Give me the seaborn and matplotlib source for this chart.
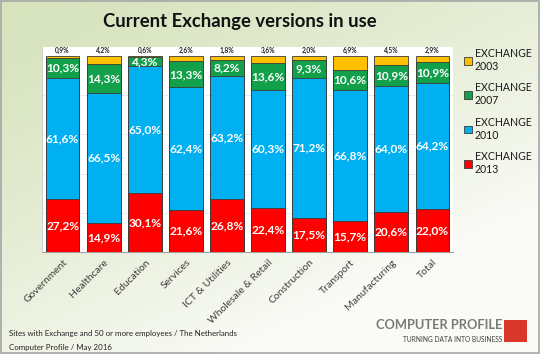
import numpy as np
import pandas as pd
import matplotlib
matplotlib.use('Agg')
import matplotlib.pyplot as plt
import seaborn as sns
from matplotlib.patches import Patch, Rectangle

# Data
categories = ['Government', 'Healthcare', 'Education', 'Services', 'ICT & Utilities',
              'Wholesale & Retail', 'Construction', 'Transport', 'Manufacturing', 'Total']
ex2013 = [27.2, 14.9, 30.1, 21.6, 26.8, 22.4, 17.5, 15.7, 20.6, 22.0]
ex2010 = [61.6, 66.5, 65.0, 62.4, 63.2, 60.3, 71.2, 66.8, 64.0, 64.2]
ex2007 = [10.3, 14.3, 4.3, 13.3, 8.2, 13.6, 9.3, 10.6, 10.9, 10.9]
ex2003 = [0.9, 4.2, 0.6, 2.6, 1.8, 3.6, 2.0, 6.9, 4.5, 2.9]
series_names = ['EXCHANGE\n2003', 'EXCHANGE\n2007', 'EXCHANGE\n2010', 'EXCHANGE\n2013']

colors = {'2003': '#ffc000', '2007': '#12a04b', '2010': '#00b0f0', '2013': '#ff0000'}

sns.set_theme(style='white')
plt.rcParams['font.family'] = ['Lato', 'DejaVu Sans']

df = pd.DataFrame({'cat': categories, '2013': ex2013, '2010': ex2010,
                   '2007': ex2007, '2003': ex2003})
df['c2013'] = df['2013']
df['c2010'] = df['c2013'] + df['2010']
df['c2007'] = df['c2010'] + df['2007']
df['c2003'] = df['c2007'] + df['2003']

fig = plt.figure(figsize=(5.4, 3.54), dpi=100)

# background gradient
bg = fig.add_axes([0, 0, 1, 1], zorder=-10)
gx, gy = np.meshgrid(np.linspace(0, 1, 200), np.linspace(0, 1, 200))
t = np.clip(0.55 * gx + 0.75 * gy, 0, 1) ** 1.3
c0 = np.array([214, 227, 188]) / 255
c1 = np.array([250, 251, 247]) / 255
img = c0[None, None, :] * (1 - t[..., None]) + c1[None, None, :] * t[..., None]
bg.imshow(img, extent=[0, 1, 0, 1], aspect='auto', origin='upper')
bg.set_axis_off()
bg.add_patch(Rectangle((0.002, 0.003), 0.996, 0.994, fill=False, edgecolor='#a6a6a6',
                       linewidth=1.2, transform=bg.transAxes))

ax = fig.add_axes([0.0778, 0.2881, 0.761, 0.579])
ax.set_facecolor('white')

for key in ['2003', '2007', '2010', '2013']:
    sns.barplot(data=df, x='cat', y='c' + key, color=colors[key], saturation=1,
                width=0.82, edgecolor='#3a3a3a', linewidth=0.6, ax=ax, zorder=3)

ax.set_ylim(0, 104.6)
ax.set_xlim(-0.5, len(categories) - 0.5)
ax.set_yticks([])
for yv in [20, 40, 60, 80]:
    ax.axhline(yv, color='#c0c0c0', linewidth=0.6, linestyle=(0, (1.5, 2.5)), zorder=1)
ax.set_xlabel('')
ax.set_ylabel('')
for s in ['top', 'right']:
    ax.spines[s].set_visible(False)
ax.spines['bottom'].set_color('#a0a0a0')
ax.spines['left'].set_color('#c8c8c8')
ax.spines['bottom'].set_linewidth(0.8)
ax.spines['left'].set_linewidth(0.6)

ax.set_xticks(range(len(categories)))
ax.set_xticklabels(categories, rotation=45, ha='right', rotation_mode='anchor',
                   fontsize=7.5, color='#404040')
ax.tick_params(axis='x', which='major', length=0, pad=4)
ax.set_xticks(np.arange(-0.5, len(categories), 1), minor=True)
ax.tick_params(axis='x', which='minor', length=3, color='#a0a0a0', width=0.6)


def fmt(v):
    return f'{v:.1f}%'.replace('.', ',')


lab = dict(ha='center', va='center', color='white', fontsize=8.6, fontweight='bold', zorder=5)
for i in range(len(categories)):
    ax.text(i, ex2013[i] / 2, fmt(ex2013[i]), **lab)
    ax.text(i, ex2013[i] + ex2010[i] / 2, fmt(ex2010[i]), **lab)
    if ex2007[i] >= 4:
        ax.text(i, ex2013[i] + ex2010[i] + ex2007[i] / 2, fmt(ex2007[i]), **lab)
    ax.text(i, 101.2, fmt(ex2003[i]), ha='center', va='bottom', color='#222222',
            fontsize=4.8, fontweight='bold', zorder=5)

handles = [Patch(facecolor=colors[k], edgecolor='#3a3a3a', linewidth=0.6)
           for k in ['2003', '2007', '2010', '2013']]
fig.legend(handles, series_names, loc='upper left', bbox_to_anchor=(0.853, 0.873),
           frameon=False, fontsize=7.6, handlelength=0.75, handleheight=0.75,
           handletextpad=0.3, labelspacing=1.0, labelcolor='#1a1a1a',
           borderaxespad=0, borderpad=0.3)

fig.text(0.444, 0.938, 'Current Exchange versions in use', ha='center', va='center',
         fontsize=13.3, fontweight='bold', color='#111111')

fig.text(0.017, 0.059, 'Sites with Exchange and 50 or more employees / The Netherlands',
         ha='left', va='center', fontsize=5.7, color='#222222')
fig.text(0.017, 0.019, 'Computer Profile / May 2016', ha='left', va='center',
         fontsize=5.7, color='#222222')

# logo
fig.text(0.93, 0.083, 'COMPUTER PROFILE', ha='right', va='center', fontsize=9.3,
         color='#7a7a7a', fontweight='bold', family=['Liberation Sans Narrow', 'Lato'])
fig.text(0.93, 0.042, 'TURNING DATA INTO BUSINESS', ha='right', va='center',
         fontsize=4.8, color='#404040', family=['Liberation Sans Narrow', 'Lato'])
fig.add_artist(Rectangle((0.934, 0.034), 0.042, 0.063, facecolor='#d9372a',
                         edgecolor='none', transform=fig.transFigure))

fig.savefig('out.png', dpi=100)
